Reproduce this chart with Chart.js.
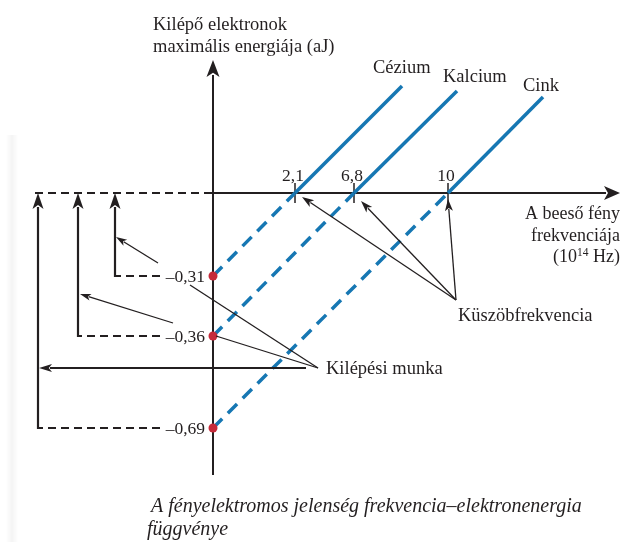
<!DOCTYPE html>
<html lang="hu">
<head>
    <meta charset="UTF-8">
    <title>Fényelektromos jelenség</title>
    <script src="https://cdn.jsdelivr.net/npm/chart.js"></script>
    <style>
        body {
            margin: 0;
            background: #fff;
        }
        .wrap {
            position: relative;
            width: 623px;
            height: 542px;
        }
    </style>
</head>
<body>
    <div class="wrap">
        <canvas id="chart" width="623" height="542"></canvas>
    </div>

    <script>
        // data (the original figure is schematic, so positions are in diagram units)
        const metals = ['Cézium', 'Kalcium', 'Cink'];
        const thresholdLabels = ['2,1', '6,8', '10'];
        const workLabels = ['–0,31', '–0,36', '–0,69'];
        const thresholdPos = [0.82, 1.41, 2.35];
        const workPos = [-0.83, -1.43, -2.35];
        const lineEndX = [1.89, 2.44, 3.30];
        const lineEndY = [1.07, 1.02, 0.96];

        const BLUE = '#1677b3';
        const RED = '#c62a3a';
        const INK = '#231f20';
        const SERIF = '"Liberation Serif", "DejaVu Serif", serif';

        const datasets = [];
        metals.forEach((m, i) => {
            datasets.push({
                label: m,
                data: [{ x: thresholdPos[i], y: 0 }, { x: lineEndX[i], y: lineEndY[i] }],
                showLine: true,
                borderColor: BLUE,
                borderWidth: 3.5,
                pointRadius: 0,
                order: 2
            });
            datasets.push({
                label: m + ' (extrapolált)',
                data: [{ x: 0, y: workPos[i] }, { x: thresholdPos[i], y: 0 }],
                showLine: true,
                borderColor: BLUE,
                borderWidth: 3.5,
                borderDash: [13, 8],
                pointRadius: 0,
                order: 2
            });
        });
        datasets.push({
            label: 'Kilépési munka',
            data: workPos.map(v => ({ x: 0, y: v })),
            pointRadius: 4.5,
            pointBackgroundColor: RED,
            pointBorderWidth: 0,
            order: 0
        });

        function arrow(ctx, x1, y1, x2, y2, len, half, width) {
            ctx.save();
            ctx.strokeStyle = INK;
            ctx.fillStyle = INK;
            ctx.lineWidth = width;
            const a = Math.atan2(y2 - y1, x2 - x1);
            const bx = x2 - Math.cos(a) * len;
            const by = y2 - Math.sin(a) * len;
            ctx.beginPath();
            ctx.moveTo(x1, y1);
            ctx.lineTo(bx + Math.cos(a) * 2, by + Math.sin(a) * 2);
            ctx.stroke();
            ctx.beginPath();
            ctx.moveTo(x2, y2);
            ctx.lineTo(bx - Math.sin(a) * half, by + Math.cos(a) * half);
            ctx.lineTo(bx + Math.cos(a) * len * 0.25, by + Math.sin(a) * len * 0.25);
            ctx.lineTo(bx + Math.sin(a) * half, by - Math.cos(a) * half);
            ctx.closePath();
            ctx.fill();
            ctx.restore();
        }

        function line(ctx, pts, width, dash) {
            ctx.save();
            ctx.strokeStyle = INK;
            ctx.lineWidth = width;
            ctx.setLineDash(dash || []);
            ctx.beginPath();
            ctx.moveTo(pts[0][0], pts[0][1]);
            for (let k = 1; k < pts.length; k++) ctx.lineTo(pts[k][0], pts[k][1]);
            ctx.stroke();
            ctx.restore();
        }

        const axesPlugin = {
            id: 'axes',
            beforeDatasetsDraw(chart) {
                const { ctx, scales } = chart;
                const ox = scales.x.getPixelForValue(0);
                const oy = scales.y.getPixelForValue(0);

                // faint page edge
                const g = ctx.createLinearGradient(6, 0, 18, 0);
                g.addColorStop(0, 'rgba(0,0,0,0)');
                g.addColorStop(0.5, 'rgba(0,0,0,0.045)');
                g.addColorStop(1, 'rgba(0,0,0,0)');
                ctx.fillStyle = g;
                ctx.fillRect(6, 135, 12, 407);

                // x axis: dashed to the left, solid with arrow to the right
                line(ctx, [[35, oy], [ox, oy]], 2, [8, 5]);
                arrow(ctx, ox, oy, 620, oy, 16, 7, 2);
                // y axis
                arrow(ctx, ox, 475, ox, 60, 17, 6.5, 2);

                // threshold ticks
                thresholdPos.forEach(v => {
                    const tx = scales.x.getPixelForValue(v);
                    line(ctx, [[tx, oy - 10], [tx, oy + 10]], 1.5);
                });
            },
            afterDatasetsDraw(chart) {
                const { ctx, scales } = chart;
                const ox = scales.x.getPixelForValue(0);
                const oy = scales.y.getPixelForValue(0);
                ctx.save();
                ctx.fillStyle = INK;

                // work function bracket arrows on the left
                const bracketX = [115, 78, 38];
                workPos.forEach((v, i) => {
                    const wy = scales.y.getPixelForValue(v);
                    line(ctx, [[160, wy], [bracketX[i], wy]], 2, [8, 5]);
                    arrow(ctx, bracketX[i], wy + 1, bracketX[i], oy, 16, 5.5, 2.2);
                    ctx.font = '17.5px ' + SERIF;
                    ctx.textAlign = 'right';
                    ctx.textBaseline = 'alphabetic';
                    ctx.fillText(workLabels[i], 205, wy + 6);
                });
                arrow(ctx, 158, 263, 116, 237, 11, 3.5, 1.3);
                arrow(ctx, 173, 323, 80, 294, 11, 3.5, 1.3);

                // Kilépési munka pointers
                const w0 = scales.y.getPixelForValue(workPos[1]);
                line(ctx, [[190, 285], [318, 368]], 1.3);
                line(ctx, [[ox + 3, w0], [318, 368]], 1.3);
                arrow(ctx, 306, 368, 39, 368, 13, 4, 2);

                // Küszöbfrekvencia pointers
                const tipY = [197, 201, 199];
                const tipDx = [7, 7, 0];
                thresholdPos.forEach((v, i) => {
                    const tx = scales.x.getPixelForValue(v) + tipDx[i];
                    arrow(ctx, 456, 300, tx, tipY[i], 12, 4, 1.3);
                });

                // threshold labels
                ctx.font = '17.5px ' + SERIF;
                ctx.textAlign = 'center';
                thresholdLabels.forEach((t, i) => {
                    const tx = scales.x.getPixelForValue(thresholdPos[i]);
                    ctx.fillText(t, tx - 2, 181);
                });

                // metal names
                ctx.font = '18.5px ' + SERIF;
                ctx.textAlign = 'left';
                const nameX = [373, 443, 523];
                const nameY = [73, 82, 91];
                metals.forEach((m, i) => ctx.fillText(m, nameX[i], nameY[i]));

                // axis titles
                ctx.fillText('Kilépő elektronok', 153, 30);
                ctx.fillText('maximális energiája (aJ)', 153, 52);
                ctx.fillText('Kilépési munka', 326, 374);
                ctx.fillText('Küszöbfrekvencia', 458, 321);

                ctx.font = '18px ' + SERIF;
                ctx.textAlign = 'right';
                ctx.fillText('A beeső fény', 620, 219);
                ctx.fillText('frekvenciája', 620, 241);
                // (10^14 Hz)
                const tail = ' Hz)';
                const sup = '14';
                const head = '(10';
                let x = 620;
                ctx.fillText(tail, x, 262);
                x -= ctx.measureText(tail).width;
                ctx.font = '11.5px ' + SERIF;
                ctx.fillText(sup, x, 256);
                x -= ctx.measureText(sup).width;
                ctx.font = '18px ' + SERIF;
                ctx.fillText(head, x, 262);

                // caption
                ctx.font = 'italic 20px ' + SERIF;
                ctx.textAlign = 'left';
                ctx.fillText('A fényelektromos jelenség frekvencia–elektronenergia', 151, 512);
                ctx.fillText('függvénye', 147, 535);
                ctx.restore();
            }
        };

        new Chart(document.getElementById('chart'), {
            type: 'scatter',
            data: { datasets },
            options: {
                responsive: false,
                animation: false,
                clip: false,
                layout: { padding: { left: 13, right: 10, top: 43, bottom: 49 } },
                scales: {
                    x: { type: 'linear', min: -2.0, max: 4.0, display: false },
                    y: { type: 'linear', min: -3.0, max: 1.5, display: false }
                },
                plugins: {
                    legend: { display: false },
                    tooltip: { enabled: false }
                }
            },
            plugins: [axesPlugin]
        });
    </script>
</body>
</html>
